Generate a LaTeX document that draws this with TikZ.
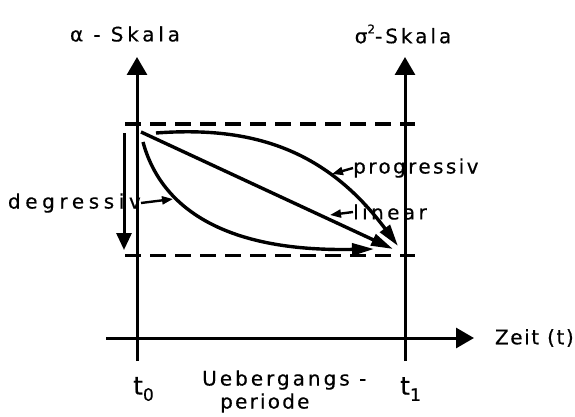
\documentclass[tikz,border=0pt]{standalone}
\usepackage{fontspec}
\setmainfont{DejaVu Sans}[LetterSpace=15,FakeBold=0.4]
\usetikzlibrary{arrows.meta}
\newcommand{\ls}[1]{\addfontfeature{LetterSpace=#1}}
\tikzset{
  axis/.style={line width=3pt,-{Triangle[length=18pt,width=20pt]}},
  curve/.style={line width=3.4pt,-{Triangle[length=22pt,width=12pt]}},
  pointer/.style={line width=2.4pt,-{Triangle[length=11pt,width=8pt]}},
  dashline/.style={line width=3pt,dash pattern=on 16pt off 9pt},
  lab/.style={font=\fontsize{20}{22}\selectfont,inner sep=0pt}
}
\begin{document}
\begin{tikzpicture}[x=1pt,y=-1pt]
\useasboundingbox (0,0) rectangle (575,417);
% coordinates
\coordinate (lb) at (137,361);
\coordinate (lt) at (137,57);
\coordinate (rb) at (405,361);
\coordinate (rt) at (405,57);
\coordinate (hl) at (106,338);
\coordinate (hr) at (474,338);
\coordinate (dtl) at (125,124);
\coordinate (dtr) at (415,124);
\coordinate (dbl) at (125,255);
\coordinate (dbr) at (415,255);
\coordinate (da) at (124,133);
\coordinate (db) at (124,250);
% axes
\draw[axis] (lb) -- (lt);
\draw[axis] (rb) -- (rt);
\draw[axis] (hl) -- (hr);
\draw[dashline] (dtl) -- (dtr);
\draw[dashline] (dbl) -- (dbr);
\draw[axis,-{Triangle[length=17pt,width=15pt]}] (da) -- (db);
% curves
\coordinate (ls) at (141,132);
\coordinate (le) at (393,249);
\coordinate (ps) at (156,133);
\coordinate (pe) at (398,246);
\coordinate (gs) at (143,142);
\coordinate (ge) at (374,249);
\draw[curve] (ls) -- (le);
\draw[curve] (ps) .. controls (250,126) and (325,148) .. (pe);
\draw[curve] (gs) .. controls (160,205) and (220,252) .. (ge);
% labels
\node[lab,anchor=west] (prog) at (353,168) {\ls{12}progressiv};
\node[lab,anchor=west] (lin) at (353,212) {\ls{17}linear};
\node[lab,anchor=east] (deg) at (141,203) {\ls{23}degressiv};
\coordinate (pp) at (332,174);
\coordinate (lp) at (330,215);
\coordinate (gp) at (173,199);
\draw[pointer] (prog.west) -- (pp);
\draw[pointer] (lin.west) -- (lp);
\draw[pointer] (deg.east) -- (gp);
\node[lab] (alab) at (125,34) {\ls{19}α - Skala};
\node[lab] (slab) at (403,34) {\ls{15}σ\raisebox{0.9ex}{\fontsize{12}{12}\selectfont 2}-Skala};
\node[lab,anchor=east] (zeit) at (574,338) {\ls{8}Zeit (t)};
\node[lab,font=\fontsize{25}{27}\selectfont,anchor=west] (t0) at (133,389) {t\raisebox{-0.45ex}{\fontsize{17}{17}\selectfont 0}};
\node[lab,font=\fontsize{25}{27}\selectfont,anchor=west] (t1) at (400,389) {t\raisebox{-0.45ex}{\fontsize{17}{17}\selectfont 1}};
\node[lab,anchor=west] (ueb) at (202,380) {\ls{15}Uebergangs -};
\node[lab,anchor=west] (per) at (220,403) {\ls{11}periode};
\end{tikzpicture}
\end{document}
